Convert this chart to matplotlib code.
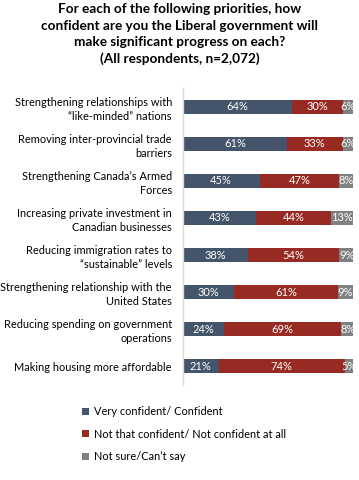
import matplotlib
matplotlib.use("Agg")
import matplotlib.pyplot as plt
from matplotlib.patches import Patch

categories = [
    "Strengthening relationships with\n\u201clike-minded\u201d nations",
    "Removing inter-provincial trade\nbarriers",
    "Strengthening Canada\u2019s Armed\nForces",
    "Increasing private investment in\nCanadian businesses",
    "Reducing immigration rates to\n\u201csustainable\u201d levels",
    "Strengthening relationship with the\nUnited States",
    "Reducing spending on government\noperations",
    "Making housing more affordable",
]
confident = [64, 61, 45, 43, 38, 30, 24, 21]
not_confident = [30, 33, 47, 44, 54, 61, 69, 74]
not_sure = [6, 6, 8, 13, 9, 9, 8, 5]
series_names = ["Very confident/ Confident",
                "Not that confident/ Not confident at all",
                "Not sure/Can\u2019t say"]
colors = ["#44546a", "#982a24", "#808080"]

plt.rcParams['font.family'] = ['Lato', 'DejaVu Sans']

fig = plt.figure(figsize=(3.59, 4.8), dpi=100)
fig.text(0.5, 1 - 3/480, "For each of the following priorities, how\nconfident are you the Liberal government will\nmake significant progress on each?\n(All respondents, n=2,072)",
         ha='center', va='top', fontsize=9.8, fontweight='bold', linespacing=1.45, color='#000000')

ax = fig.add_axes([183/359, 1 - 385/480, (353-183)/359, (385-88)/480])
y = list(range(len(categories)))
h = 0.38
left = [0]*len(y)
for vals, col in zip([confident, not_confident, not_sure], colors):
    ax.barh(y, vals, left=left, height=h, color=col)
    for yi, l, v in zip(y, left, vals):
        ax.text(l + v/2, yi, f"{v}%", ha='center', va='center', color='white', fontsize=8)
    left = [a + b for a, b in zip(left, vals)]

ax.set_xlim(0, 100)
ax.set_ylim(len(categories) - 0.5, -0.5)
ax.set_yticks(y)
ax.set_yticklabels(categories, fontsize=7.9, linespacing=1.35)
ax.tick_params(axis='y', length=0, pad=8)
ax.set_xticks([])
for s in ['top', 'right', 'bottom']:
    ax.spines[s].set_visible(False)
ax.spines['left'].set_color('#d9d9d9')
ax.spines['left'].set_linewidth(1)

handles = [Patch(facecolor=c) for c in colors]
fig.legend(handles, series_names, loc='upper left', bbox_to_anchor=(82/359, 1 - 406/480),
           frameon=False, fontsize=7.9, handlelength=0.6, handleheight=0.6,
           handletextpad=0.45, labelspacing=1.05, borderaxespad=0, borderpad=0)

fig.savefig("out.png", dpi=100)
